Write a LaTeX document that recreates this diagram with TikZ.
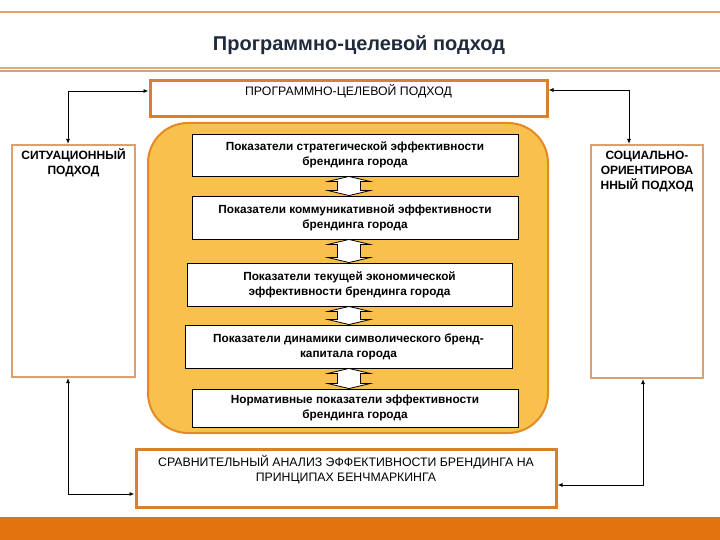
\documentclass[tikz,border=0pt]{standalone}
\usepackage{fontspec}
\setmainfont{Liberation Sans}
\usetikzlibrary{arrows.meta,calc}
\definecolor{hdrline}{HTML}{E4A064}
\definecolor{titlec}{HTML}{1F2B3B}
\definecolor{dlineA}{HTML}{E8A870}
\definecolor{dlineB}{HTML}{C9A48A}
\definecolor{contfill}{HTML}{F8C04C}
\definecolor{contdraw}{HTML}{E38A24}
\definecolor{obord}{HTML}{D9802E}
\definecolor{sbord}{HTML}{DDA06A}
\definecolor{bandc}{HTML}{E3730F}
\tikzset{
  obox/.style={draw=obord, line width=3pt, fill=white, inner sep=0pt},
  sbox/.style={draw=sbord, line width=2pt, fill=white, inner sep=0pt},
  ibox/.style={draw=black, line width=0.9pt, fill=white, inner sep=0pt, align=center,
    font=\bfseries\fontsize{11.8}{15}\selectfont},
  capt/.style={align=center, inner sep=0pt, font=\fontsize{12.3}{15}\selectfont},
  scapt/.style={align=center, inner sep=0pt, font=\bfseries\fontsize{12}{14.7}\selectfont},
  conn/.style={draw=black, line width=0.9pt, {Latex[length=5pt,width=4pt]}-{Latex[length=5pt,width=4pt]}},
  darr/.style={draw=black, line width=0.8pt, fill=white, line join=miter},
}
\newcommand\dblarr[2]{\draw[darr] let \p1=(#1.south), \p2=(#2.north) in
 (349pt,\y1) -- (370pt,\y1-5pt) -- (360.5pt,\y1-5pt) -- (360.5pt,\y2+5pt) -- (370pt,\y2+5pt)
 -- (349pt,\y2) -- (328pt,\y2+5pt) -- (337.5pt,\y2+5pt) -- (337.5pt,\y1-5pt) -- (328pt,\y1-5pt) -- cycle;}
\begin{document}
\begin{tikzpicture}[x=1pt,y=-1pt]
\useasboundingbox (0,0) rectangle (720,540);
% header
\draw[hdrline, line width=2.5pt] (0,12) -- (720,12);
\node[font=\bfseries\fontsize{20}{23}\selectfont, text=titlec] (title) at (359,45) {Программно-целевой подход};
\draw[dlineA, line width=1.5pt] (0,68) -- (720,68);
\draw[dlineB, line width=1.5pt] (0,71) -- (720,71);
% bottom band
\fill[bandc] (0,517) rectangle (720,540);
% top box
\node[obox, minimum width=397, minimum height=36] (top) at (348.5,99) {};
\node[capt] (topt) at (348.5,91) {ПРОГРАММНО-ЦЕЛЕВОЙ ПОДХОД};
% side boxes
\node[sbox, minimum width=123, minimum height=232] (lbox) at (73.5,261) {};
\node[scapt] (ltext) at (73.5,162.5) {СИТУАЦИОННЫЙ\\ПОДХОД};
\node[sbox, minimum width=112, minimum height=233] (rbox) at (647,261.5) {};
\node[scapt] (rtext) at (647,171.5) {СОЦИАЛЬНО-\\ОРИЕНТИРОВА\\ННЫЙ ПОДХОД};
% container
\node[draw=contdraw, line width=2pt, fill=contfill, rounded corners=40pt,
  minimum width=400, minimum height=310, inner sep=0pt] (cont) at (348,278) {};
% inner boxes
\node[ibox, minimum width=326, minimum height=42] (b1) at (355,155) {Показатели стратегической эффективности\\брендинга города};
\node[ibox, minimum width=326, minimum height=43] (b2) at (355,217.5) {Показатели коммуникативной эффективности\\брендинга города};
\node[ibox, minimum width=325, minimum height=43] (b3) at (349.5,284.5) {Показатели текущей экономической\\эффективности брендинга города};
\node[ibox, minimum width=327, minimum height=43] (b4) at (348.5,346.5) {Показатели динамики символического бренд-\\капитала города};
\node[ibox, minimum width=326, minimum height=38] (b5) at (355,408) {Нормативные показатели эффективности\\брендинга города};
\dblarr{b1}{b2}
\dblarr{b2}{b3}
\dblarr{b3}{b4}
\dblarr{b4}{b5}
% bottom box
\node[obox, minimum width=420, minimum height=58] (bot) at (346,478) {};
\node[capt] (bott) at (346,469.5) {СРАВНИТЕЛЬНЫЙ АНАЛИЗ ЭФФЕКТИВНОСТИ БРЕНДИНГА НА\\ПРИНЦИПАХ БЕНЧМАРКИНГА};
% connectors
\coordinate (lx) at (68,0);
\coordinate (rx1) at (629,0);
\coordinate (rx2) at (643,0);
\draw[conn] (lbox.north -| lx) |- ([yshift=8pt]top.west);
\draw[conn] (rbox.north -| rx1) |- ([yshift=9pt]top.east);
\draw[conn] (lbox.south -| lx) |- ([yshift=-16pt]bot.west);
\draw[conn] (rbox.south -| rx2) |- ([yshift=-7pt]bot.east);
\end{tikzpicture}
\end{document}
